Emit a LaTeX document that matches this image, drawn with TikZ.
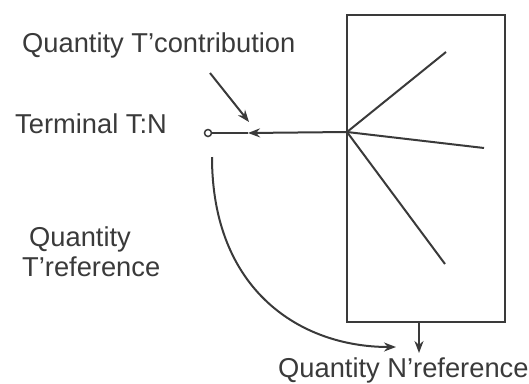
\documentclass[tikz,border=0pt]{standalone}
\usepackage{fontspec}
\setmainfont{Liberation Sans}
\usetikzlibrary{arrows.meta}
\definecolor{ink}{HTML}{3A3A3A}
\tikzset{
  lbl/.style={font=\fontsize{27.3}{31}\selectfont, text=ink, inner sep=0pt, anchor=base west},
  conn/.style={draw=ink, line width=2pt},
  arr/.style={conn, -{Stealth[length=12pt,width=9pt]}},
}
\begin{document}
\begin{tikzpicture}[x=1pt,y=-1pt]
\useasboundingbox (0,0) rectangle (529,383);
% box
\draw[conn] (347,15) rectangle (505,322);
\coordinate (hub) at (347,132);
\coordinate (s1) at (446,52);
\coordinate (s2) at (484,148);
\coordinate (s3) at (445,264);
\draw[conn] (hub) -- (s1);
\draw[conn] (hub) -- (s2);
\draw[conn] (hub) -- (s3);
% terminal
\node[circle, draw=ink, line width=1.5pt, minimum size=7pt, inner sep=0pt] (term) at (208,133) {};
\coordinate (tip1) at (248,133);
\draw[conn] (tip1) -- (term);
\draw[arr] (hub) -- (tip1);
% contribution arrow
\coordinate (c0) at (210,73);
\coordinate (c1) at (249,122);
\draw[arr] (c0) -- (c1);
% curved reference arrow
\coordinate (r0) at (212,157);
\coordinate (r1) at (396,347);
\draw[arr] (r0) .. controls (212,290) and (300,347) .. (r1);
% down arrow
\coordinate (d0) at (419,322);
\coordinate (d1) at (419,353);
\draw[arr] (d0) -- (d1);
% labels
\node[lbl] (tc) at (22,52) {Quantity T'contribution};
\node[lbl] (tn) at (15,133) {Terminal T:N};
\node[lbl] (q1) at (29,246) {Quantity};
\node[lbl] (q2) at (22,276) {T'reference};
\node[lbl] (nr) at (278,377) {Quantity N'reference};
\end{tikzpicture}
\end{document}
